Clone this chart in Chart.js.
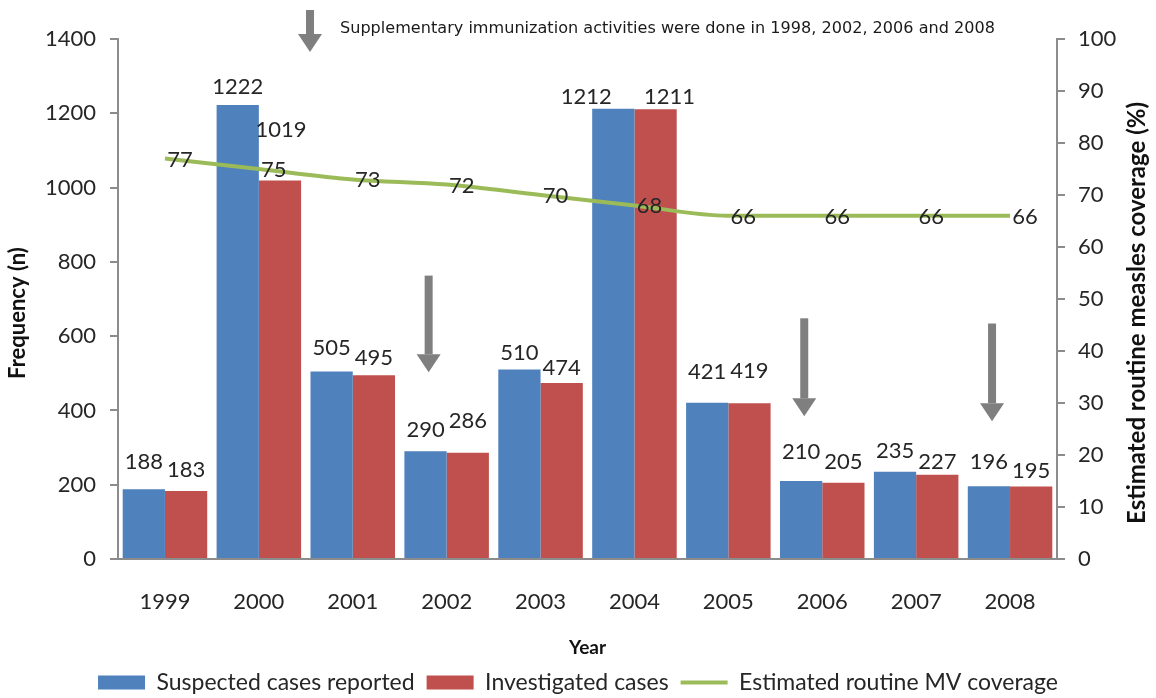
<!DOCTYPE html>
<html>
<head>
<meta charset="utf-8">
<script src="https://cdn.jsdelivr.net/npm/chart.js@4"></script>
<style>
  html, body { margin: 0; padding: 0; background: #fff; }
  #wrap { width: 1156px; height: 698px; }
</style>
</head>
<body>
<div id="wrap"><canvas id="measlesChart"></canvas></div>
<script>
// measles surveillance, 1999-2008

const years = ['1999', '2000', '2001', '2002', '2003', '2004', '2005', '2006', '2007', '2008'];
const suspected = [188, 1222, 505, 290, 510, 1212, 421, 210, 235, 196];
const investigated = [183, 1019, 495, 286, 474, 1211, 419, 205, 227, 195];
const coverage = [77, 75, 73, 72, 70, 68, 66, 66, 66, 66];
const leftTicks = [0, 200, 400, 600, 800, 1000, 1200, 1400];
const rightTicks = [0, 10, 20, 30, 40, 50, 60, 70, 80, 90, 100];
const siaYears = ['2002', '2006', '2008'];
const siaNote = 'Supplementary immunization activities were done in 1998, 2002, 2006 and 2008';
const leftTitle = 'Frequency (n)';
const rightTitle = 'Estimated routine measles coverage (%)';

// hand nudges for bar labels (the original has manually moved labels)
const barNudge = [
  { 0: [0, -6], 1: [0, 3], 2: [0, -3], 4: [0, 4], 5: [-27, 9], 6: [0, -10], 7: [0, -8], 9: [0, -3] },
  { 1: [1, -30], 2: [0, 4], 3: [0, -11], 4: [0, 6], 5: [14, 9], 6: [0, -11], 8: [0, 8], 9: [0, 5] }
];

const FONT = 'Lato';
const TXT = '#262626';

function drawArrow(ctx, x, yTop, yTip) {
  const shaft = 8, head = 24, headLen = 18;
  ctx.fillStyle = '#7f7f7f';
  ctx.fillRect(x - shaft / 2, yTop, shaft, yTip - headLen - yTop);
  ctx.beginPath();
  ctx.moveTo(x - head / 2, yTip - headLen);
  ctx.lineTo(x + head / 2, yTip - headLen);
  ctx.lineTo(x, yTip);
  ctx.closePath();
  ctx.fill();
}

const extras = {
  id: 'extras',
  afterDatasetsDraw(chart) {
    const ctx = chart.ctx;
    const xs = chart.scales.x, ys = chart.scales.y;
    ctx.save();

    // bar value labels
    ctx.font = '22px ' + FONT;
    ctx.fillStyle = TXT;
    ctx.textAlign = 'center';
    ctx.textBaseline = 'middle';
    [suspected, investigated].forEach((vals, d) => {
      chart.getDatasetMeta(d).data.forEach((bar, i) => {
        const n = barNudge[d][i] || [0, 0];
        ctx.fillText(String(vals[i]), bar.x + n[0], bar.y - 21 + n[1]);
      });
    });

    // coverage labels
    chart.getDatasetMeta(2).data.forEach((pt, i) => {
      ctx.fillText(String(coverage[i]), pt.x + 15, pt.y + 1);
    });

    // SIA arrows
    siaYears.forEach((yr, k) => {
      const i = years.indexOf(yr);
      const x = xs.getPixelForValue(i) - 18;
      const top = [763, 648, 634][k];
      const tip = [503, 384, 371][k];
      drawArrow(ctx, x, ys.getPixelForValue(top), ys.getPixelForValue(tip));
    });

    // axis titles, both read bottom-to-top
    ctx.fillStyle = '#111';
    const midY = (chart.chartArea.top + chart.chartArea.bottom) / 2 + 14;
    ctx.save();
    ctx.translate(18, midY);
    ctx.rotate(-Math.PI / 2);
    ctx.font = 'bold 22px ' + FONT;
    ctx.fillText(leftTitle, 0, 0);
    ctx.restore();
    ctx.save();
    ctx.translate(1137, midY);
    ctx.rotate(-Math.PI / 2);
    ctx.font = 'bold 24px ' + FONT;
    ctx.fillText(rightTitle, 0, 0);
    ctx.restore();

    // note at the top
    drawArrow(ctx, 310, 10, 52);
    ctx.font = '15px "DejaVu Sans"';
    ctx.textAlign = 'left';
    ctx.fillStyle = '#1a1a1a';
    const w = ctx.measureText(siaNote).width;
    ctx.translate(340, 29);
    ctx.scale(655 / w, 1);
    ctx.fillText(siaNote, 0, 0);
    ctx.restore();
  }
};

const tickFont = { family: FONT, size: 22 };

new Chart(document.getElementById('measlesChart'), {
  type: 'bar',
  data: {
    labels: years,
    datasets: [
      {
        label: 'Suspected cases reported',
        data: suspected,
        backgroundColor: '#4f81bd',
        yAxisID: 'y',
        pointStyle: 'rect',
        order: 2
      },
      {
        label: 'Investigated cases',
        data: investigated,
        backgroundColor: '#c0504d',
        yAxisID: 'y',
        pointStyle: 'rect',
        order: 2
      },
      {
        type: 'line',
        label: 'Estimated routine MV coverage',
        data: coverage,
        borderColor: '#9bbb59',
        backgroundColor: '#9bbb59',
        borderWidth: 4,
        pointRadius: 0,
        pointStyle: 'line',
        cubicInterpolationMode: 'monotone',
        yAxisID: 'y1',
        order: 1
      }
    ]
  },
  options: {
    responsive: true,
    maintainAspectRatio: false,
    animation: false,
    devicePixelRatio: 1,
    layout: { padding: { top: 39, left: 0, right: 0, bottom: -6 } },
    datasets: {
      bar: { categoryPercentage: 0.9, barPercentage: 1.0 }
    },
    plugins: {
      tooltip: { enabled: false },
      legend: {
        position: 'bottom',
        align: 'center',
        labels: {
          usePointStyle: true,
          pointStyleWidth: 47,
          boxHeight: 14,
          padding: 12,
          color: TXT,
          font: { family: FONT, size: 23 },
          sort: (a, b) => a.datasetIndex - b.datasetIndex
        }
      }
    },
    scales: {
      x: {
        grid: { display: false, drawTicks: false },
        border: { display: true, color: '#8c8c8c', width: 2 },
        ticks: { color: TXT, font: tickFont, padding: 30 },
        title: {
          display: true,
          text: 'Year',
          color: '#111',
          font: { family: FONT, size: 19, weight: 'bold' },
          padding: { top: 20, bottom: 0 }
        },
        afterFit(s) { s.height = 100; }
      },
      y: {
        position: 'left',
        min: 0,
        max: 1400,
        afterBuildTicks(s) { s.ticks = leftTicks.map(v => ({ value: v })); },
        grid: { drawOnChartArea: false, drawTicks: true, tickLength: 8, color: '#8c8c8c', lineWidth: 2 },
        border: { display: true, color: '#8c8c8c', width: 2 },
        ticks: { color: TXT, font: tickFont, padding: 14, callback: v => String(v) },
        afterFit(s) { s.width = 118; }
      },
      y1: {
        position: 'right',
        min: 0,
        max: 100,
        afterBuildTicks(s) { s.ticks = rightTicks.map(v => ({ value: v })); },
        grid: { drawOnChartArea: false, drawTicks: true, tickLength: 8, color: '#8c8c8c', lineWidth: 2 },
        border: { display: true, color: '#8c8c8c', width: 2 },
        ticks: { color: TXT, font: tickFont, padding: 13, callback: v => String(v) },
        afterFit(s) { s.width = 99; }
      }
    }
  },
  plugins: [extras]
});
</script>
</body>
</html>
